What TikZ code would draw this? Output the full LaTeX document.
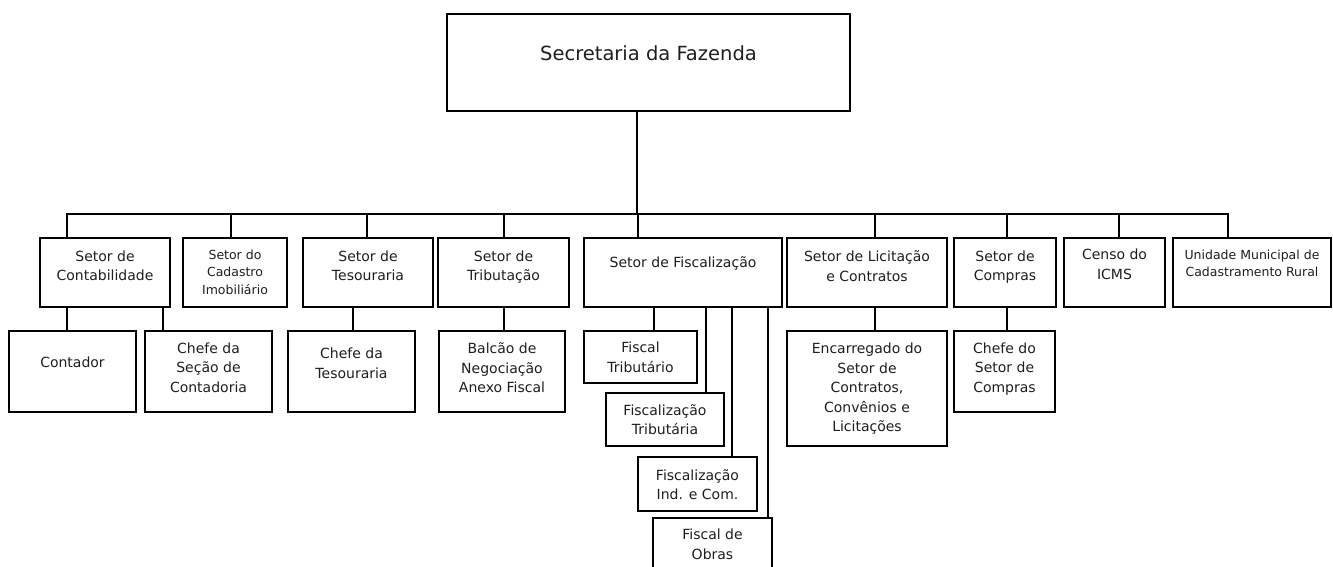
\documentclass[tikz,border=0pt]{standalone}
\usepackage{fontspec}
\setmainfont{DejaVu Sans}
\usetikzlibrary{backgrounds}

\begin{document}
\begin{tikzpicture}[x=1pt, y=-1pt]

  \tikzstyle{unit}=[draw, line width=2.8pt, inner sep=0pt]
  \tikzstyle{link}=[line width=1.7pt, line cap=rect]
  \tikzstyle{caption}=[font=\fontsize{14}{19.5}\selectfont, text=black!88, align=center, anchor=north, inner sep=0pt]
  \tikzstyle{smallcaption}=[caption, font=\fontsize{12.5}{17.5}\selectfont]

  \path[use as bounding box, fill=white] (0,0) rectangle (1333,567);

  \edef\rowa{272.5}
  \edef\busy{214}

  % head
  \node[unit, minimum width=403pt, minimum height=97pt,
    label={[caption, font=\fontsize{19.5}{22}\selectfont, yshift=-33pt]90:Secretaria da Fazenda}] (fazenda) at (648.5,62.5) {};

  % sectors
  \node[unit, minimum width=130pt, minimum height=69pt, label={[caption, yshift=-14pt]90:{Setor de\\Contabilidade}}] (contab) at (105,\rowa) {};
  \node[unit, minimum width=104pt, minimum height=69pt, label={[smallcaption, yshift=-13pt]90:{Setor do\\Cadastro\\Imobiliário}}] (cadastro) at (235,\rowa) {};
  \node[unit, minimum width=130pt, minimum height=69pt, label={[caption, yshift=-14pt]90:{Setor de\\Tesouraria}}] (tesouraria) at (368,\rowa) {};
  \node[unit, minimum width=131pt, minimum height=69pt, label={[caption, yshift=-14pt]90:{Setor de\\Tributação}}] (tributacao) at (503.5,\rowa) {};
  \node[unit, minimum width=198pt, minimum height=69pt, label={[caption, yshift=-20pt]90:{Setor de Fiscalização}}] (fiscalizacao) at (683,\rowa) {};
  \node[unit, minimum width=160pt, minimum height=69pt, label={[caption, yshift=-14pt]90:{Setor de Licitação\\e Contratos}}] (licitacao) at (867,\rowa) {};
  \node[unit, minimum width=102pt, minimum height=69pt, label={[caption, yshift=-14pt]90:{Setor de\\Compras}}] (compras) at (1005,\rowa) {};
  \node[unit, minimum width=101pt, minimum height=69pt, label={[caption, yshift=-12.5pt]90:{Censo do\\ICMS}}] (censo) at (1114.5,\rowa) {};
  \node[unit, minimum width=158pt, minimum height=69pt, label={[smallcaption, yshift=-13pt]90:{Unidade Municipal de\\Cadastramento Rural}}] (unidade) at (1252,\rowa) {};

  % staff
  \node[unit, minimum width=127pt, minimum height=81pt, label={[caption, yshift=-27.5pt]90:{Contador}}] (contador) at (72.5,371.5) {};
  \node[unit, minimum width=127pt, minimum height=81pt, label={[caption, yshift=-13pt]90:{Chefe da\\Seção de\\Contadoria}}] (chefesecao) at (208.5,371.5) {};
  \node[unit, minimum width=127pt, minimum height=81pt, label={[caption, yshift=-18.5pt]90:{Chefe da\\Tesouraria}}] (chefetes) at (351.5,371.5) {};
  \node[unit, minimum width=126pt, minimum height=81pt, label={[caption, yshift=-13pt]90:{Balcão de\\Negociação\\Anexo Fiscal}}] (balcao) at (502,371.5) {};
  \node[unit, minimum width=113pt, minimum height=52pt, label={[caption, yshift=-12.5pt]90:{Fiscal\\Tributário}}] (fiscaltrib) at (640.5,357) {};
  \node[unit, minimum width=118pt, minimum height=53pt, label={[caption, yshift=-12.5pt]90:{Fiscalização\\Tributária}}] (fisctrib) at (665,419.5) {};
  \node[unit, minimum width=119pt, minimum height=54pt, label={[caption, yshift=-13.5pt]90:{Fiscalização\\Ind. e Com.}}] (indcom) at (697.5,484) {};
  \node[unit, minimum width=119pt, minimum height=56pt, label={[caption, yshift=-12.5pt]90:{Fiscal de\\Obras}}] (obras) at (712.5,546) {};
  \node[unit, minimum width=160pt, minimum height=115pt, label={[caption, yshift=-13.5pt]90:{Encarregado do\\Setor de\\Contratos,\\Convênios e\\Licitações}}] (encarregado) at (867,388.5) {};
  \node[unit, minimum width=101pt, minimum height=81pt, label={[caption, yshift=-13pt]90:{Chefe do\\Setor de\\Compras}}] (chefecompras) at (1004.5,371.5) {};

  % bus under the head
  \coordinate (bus) at (637,\busy);
  \draw[link] (fazenda.south -| bus) -- (bus);
  \foreach \nm/\dx in {contab/67, cadastro/231, tesouraria/367, tributacao/504, fiscalizacao/638, licitacao/875, compras/1007, censo/1119, unidade/1228}
    {
      \coordinate (d\nm) at (\dx,\busy);
      \draw[link] (d\nm) -- (d\nm |- \nm.north);
    }
  \draw[link] (dcontab) -- (dunidade);

  % links to the staff
  \foreach \up/\down/\dx in {contab/contador/67, contab/chefesecao/163, tesouraria/chefetes/353, tributacao/balcao/504, fiscalizacao/fiscaltrib/654, fiscalizacao/fisctrib/706, fiscalizacao/indcom/732, fiscalizacao/obras/768, licitacao/encarregado/875, compras/chefecompras/1007}
    {
      \coordinate (x) at (\dx,0);
      \draw[link] (\up.south -| x) -- (\down.north -| x);
    }
\end{tikzpicture}
\end{document}
